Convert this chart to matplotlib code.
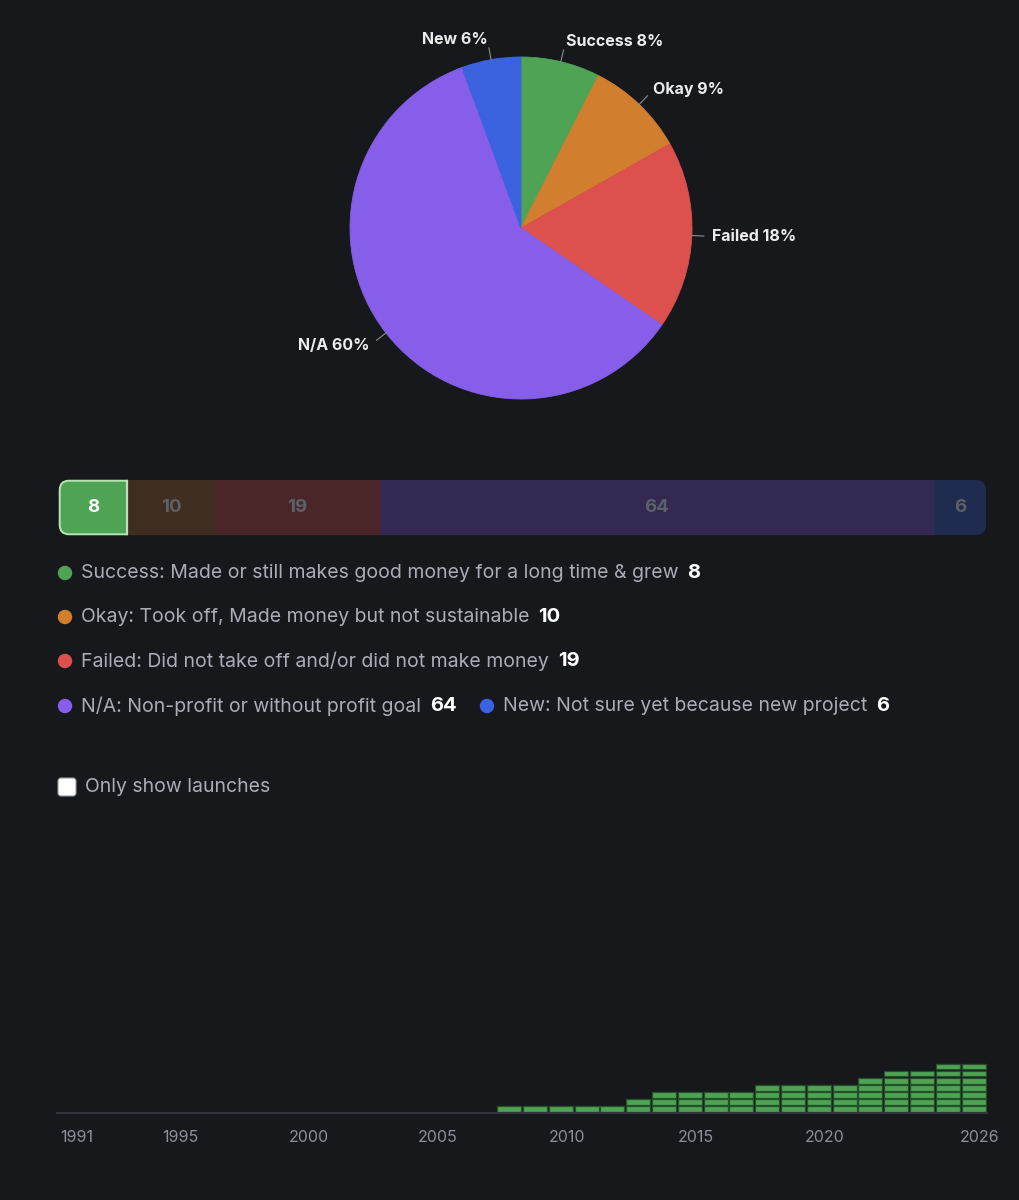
import numpy as np
import matplotlib
matplotlib.use('Agg')
import matplotlib.pyplot as plt
from matplotlib.patches import FancyBboxPatch, Circle

# data
categories = ['Success', 'Okay', 'Failed', 'N/A', 'New']
counts = [8, 10, 19, 64, 6]
pct_labels = [8, 9, 18, 60, 6]
descriptions = ['Success: Made or still makes good money for a long time & grew',
                'Okay: Took off, Made money but not sustainable',
                'Failed: Did not take off and/or did not make money',
                'N/A: Non-profit or without profit goal',
                'New: Not sure yet because new project']
colors = ['#4ea354', '#d17f2f', '#dc504d', '#865ee9', '#3b63e0']
dim_colors = ['#4ea354', '#3f2d22', '#4a2628', '#332952', '#1f2b4f']

years = list(range(2008, 2027))
launches = [1, 1, 1, 1, 1, 2, 3, 3, 3, 3, 4, 4, 4, 4, 5, 6, 6, 7, 7]
year_ticks = [1991, 1995, 2000, 2005, 2010, 2015, 2020, 2026]

BG = '#17181c'
W, H = 1019, 1200
plt.rcParams['font.family'] = ['Inter', 'DejaVu Sans']

fig = plt.figure(figsize=(W / 100, H / 100), dpi=100, facecolor=BG)

def px_axes(x0, y0, x1, y1):
    # pixel box (top-left origin) -> axes
    return fig.add_axes([x0 / W, 1 - y1 / H, (x1 - x0) / W, (y1 - y0) / H])

# overlay in pixel coords for legend, checkbox, bar highlight
ov = px_axes(0, 0, W, H)
ov.set_xlim(0, W)
ov.set_ylim(H, 0)
ov.axis('off')
ov.patch.set_alpha(0)
ov.set_zorder(10)

# ---- pie ----
cx, cy, r = 521, 228, 171
ax = px_axes(cx - r, cy - r, cx + r, cy + r)
ax.patch.set_alpha(0)
wedges, _ = ax.pie(counts, colors=colors, startangle=90, counterclock=False,
                   radius=1, wedgeprops=dict(linewidth=0.6))
for w in wedges:
    w.set_edgecolor(w.get_facecolor())
ax.set_xlim(-1, 1)
ax.set_ylim(-1, 1)
ax.set_aspect('equal')
ax.axis('off')
for w, name, p in zip(wedges, categories, pct_labels):
    ang = np.deg2rad((w.theta1 + w.theta2) / 2)
    ca, sa = np.cos(ang), np.sin(ang)
    ax.plot([ca * 1.0, ca * 1.07], [sa * 1.0, sa * 1.07], color='#8a8d93',
            lw=0.8, clip_on=False)
    ha = 'left' if ca >= 0 else 'right'
    ax.text(ca * 1.12, sa * 1.12, '%s %d%%' % (name, p),
            ha=ha, va='center', color='#ececec', fontsize=11.5,
            fontweight='bold', clip_on=False)

# ---- stacked bar ----
total = sum(counts)
bx = px_axes(59, 480, 986, 535)
bx.patch.set_alpha(0)
bx.axis('off')
bx.set_xlim(0, total)
bx.set_ylim(0, 1)
clip = FancyBboxPatch((59, 480), 927, 55,
                      boxstyle='round,pad=0,rounding_size=10',
                      transform=ov.transData, facecolor='none', lw=0)
ov.add_patch(clip)
left = 0
for i, c in enumerate(counts):
    bars = bx.barh(0.5, c, left=left, height=1, color=dim_colors[i],
                   linewidth=0)
    for b in bars:
        b.set_clip_path(clip)
    left += c

# highlight border on selected segment (square on its right side)
seg_w = counts[0] / total * 927
border = FancyBboxPatch((59.7, 480.7), seg_w + 30, 53.6,
                        boxstyle='round,pad=0,rounding_size=9.5',
                        facecolor='none', edgecolor='#b7e3b5', lw=1.4)
ov.add_patch(border)
box = plt.Rectangle((55, 476), seg_w + 4, 63, transform=ov.transData,
                    fill=False, lw=0)
ov.add_patch(box)
border.set_clip_path(box)
ov.plot([59 + seg_w - 1] * 2, [480.7, 534.3], color='#b7e3b5', lw=1.6)

left = 0
for i, c in enumerate(counts):
    tc = 'white' if i == 0 else '#5d6066'
    ov.text(59 + (left + c / 2) / total * 927, 507.5, str(c), ha='center',
            va='center', color=tc, fontsize=13.5, fontweight='bold')
    left += c

# ---- legend ----
rows = [(0, 573, 65), (1, 617, 65), (2, 661, 65), (3, 706, 65), (4, 706, 487)]
fig.canvas.draw()
rend = fig.canvas.get_renderer()
inv = ov.transData.inverted()
for i, yy, xx in rows:
    ov.add_patch(Circle((xx, yy), 6.5, color=colors[i]))
    t = ov.text(xx + 16, yy, descriptions[i], ha='left', va='center',
                color='#a9aeb6', fontsize=14)
    bb = t.get_window_extent(renderer=rend)
    x_end = inv.transform((bb.x1, bb.y0))[0]
    ov.text(x_end + 9, yy, str(counts[i]), ha='left', va='center',
            color='white', fontsize=14.5, fontweight='bold')

# checkbox
ov.add_patch(FancyBboxPatch((58, 778), 18, 18,
             boxstyle='round,pad=0,rounding_size=3',
             facecolor='white', edgecolor='#9a9a9a', lw=0.8))
ov.text(85, 787, 'Only show launches', ha='left', va='center',
        color='#a9aeb6', fontsize=14)

# ---- launches per year ----
lx = px_axes(57, 1049, 987, 1113)
lx.patch.set_alpha(0)
lx.set_xlim(1990.23, 2026.28)
lx.set_ylim(0, 9)
BAR_SHIFT = -0.24
launches = np.array(launches)
for k in range(launches.max()):
    sel = launches > k
    xs = np.array(years)[sel] + BAR_SHIFT
    lx.bar(xs, 0.82, bottom=k + 0.14, width=0.93, color='#4ea354',
           edgecolor='#25512a', linewidth=0.9)
for s in ['left', 'right', 'top']:
    lx.spines[s].set_visible(False)
lx.spines['bottom'].set_color('#32353b')
lx.spines['bottom'].set_linewidth(1.5)
lx.set_yticks([])
lx.set_xticks(year_ticks)
lx.set_xticklabels([str(y) for y in year_ticks])
lx.tick_params(axis='x', length=0, pad=12, colors='#8b9099', labelsize=11.5)

fig.savefig('out.png', dpi=100, facecolor=BG)
